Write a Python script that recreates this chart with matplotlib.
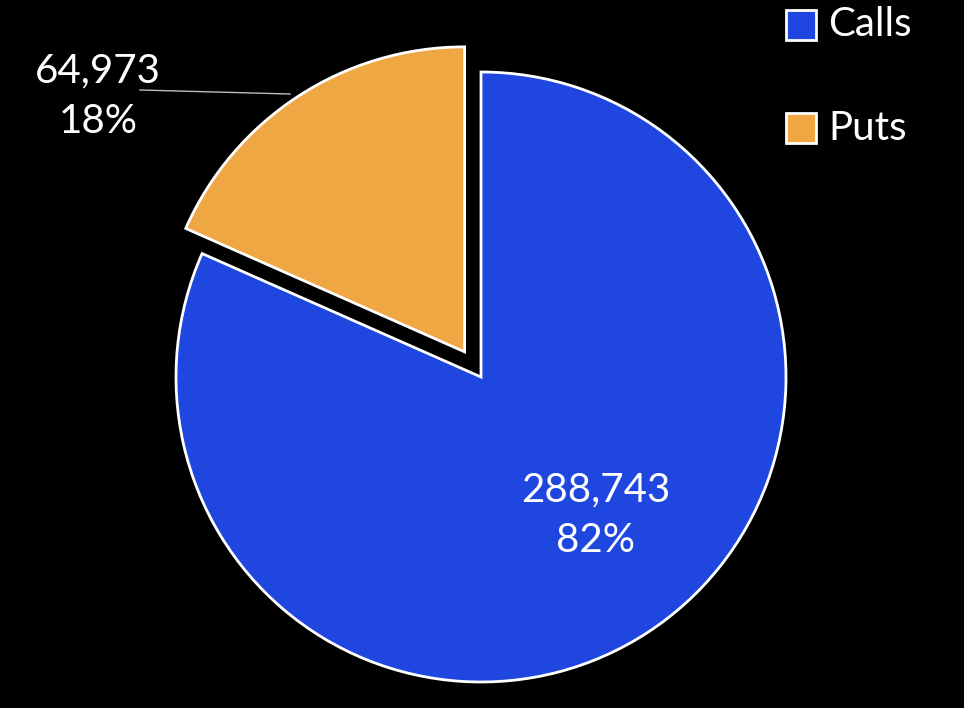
import matplotlib
matplotlib.use("Agg")
import matplotlib.pyplot as plt
import numpy as np

labels = ["Calls", "Puts"]
values = [288743, 64973]
colors = ["#1F47E0", "#EFA743"]

plt.rcParams['font.family'] = ['Lato', 'DejaVu Sans']
fig = plt.figure(figsize=(9.64, 7.08), dpi=100, facecolor="black")
ax = fig.add_axes([0, 0, 1, 1])
ax.set_facecolor("black")

total = sum(values)
wedges, _ = ax.pie(values, colors=colors, startangle=90, counterclock=False,
                   center=(481, 331), radius=305, explode=[0, 30],
                   wedgeprops=dict(edgecolor="white", linewidth=2), frame=True)
ax.set_xlim(0, 964); ax.set_ylim(0, 708); ax.set_aspect("equal"); ax.axis("off")

pct = [round(v / total * 100) for v in values]
ax.text(596, 193, f"{values[0]:,}\n{pct[0]}%", color="white", fontsize=29,
        ha="center", va="center", linespacing=1.45)
ax.text(98, 612, f"{values[1]:,}\n{pct[1]}%", color="white", fontsize=29,
        ha="center", va="center", linespacing=1.45)
ax.plot([140, 290], [618, 614], color="#BBBBBB", lw=1)

for i, (lab, c) in enumerate(zip(labels, colors)):
    y = 683 - i * 103
    ax.add_patch(plt.Rectangle((786, y - 15), 30, 30, facecolor=c, edgecolor="white", lw=2))
    ax.text(828, y, lab, color="white", fontsize=29, va="center", ha="left")

fig.savefig("out.png", dpi=100, facecolor="black")
